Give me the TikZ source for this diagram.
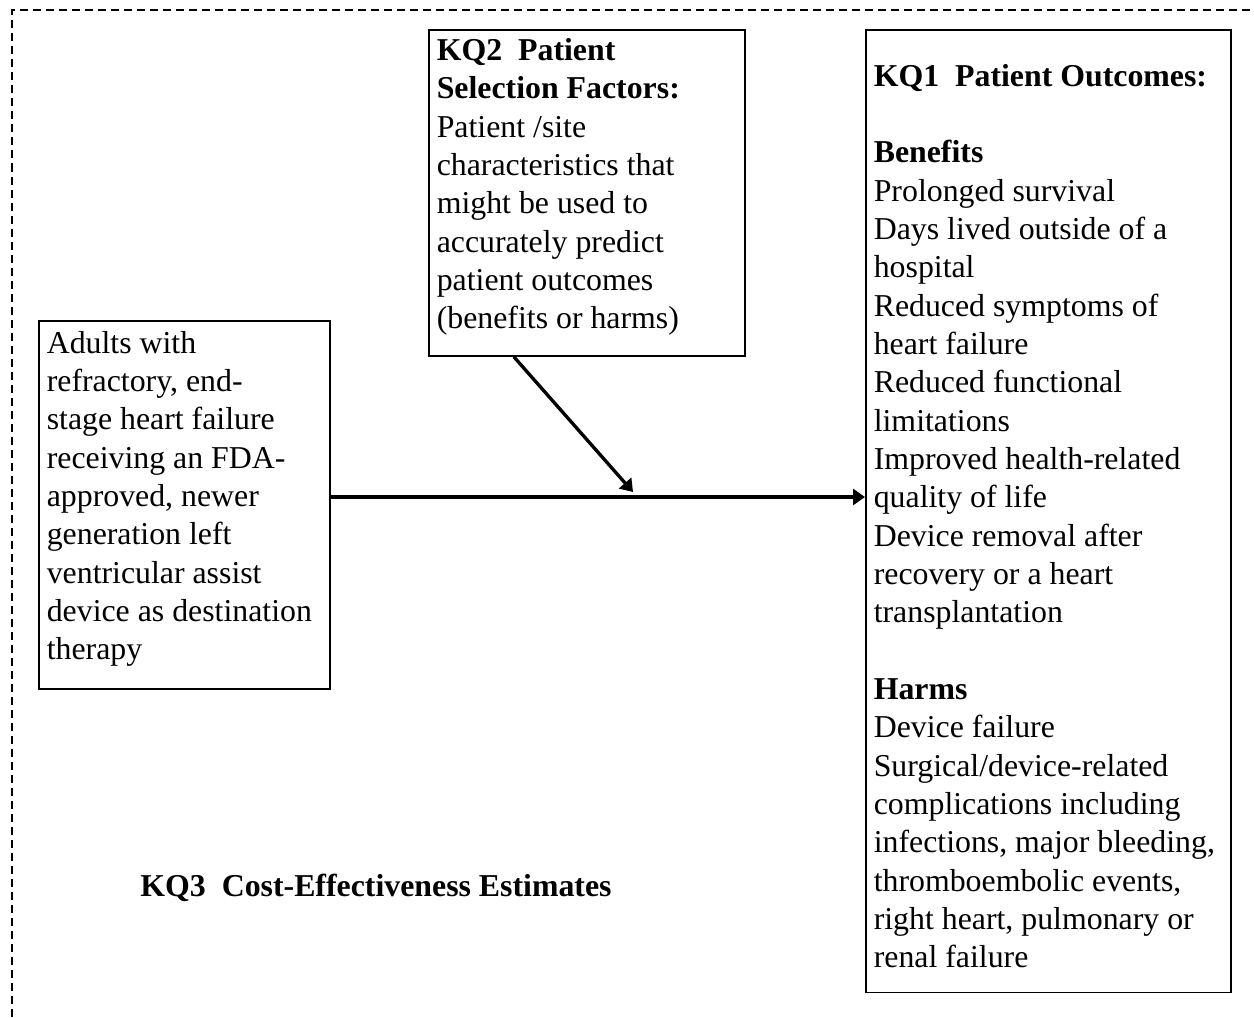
\documentclass[tikz,border=0pt]{standalone}
\usepackage{fontspec}
\setmainfont{Liberation Serif}
\usetikzlibrary{shapes,arrows.meta,positioning}

\begin{document}
\begin{tikzpicture}[x=0.01cm, y=-0.01cm, font=\fontsize{9.05pt}{10.9pt}\selectfont]
\tikzstyle{box} = [rectangle, draw, line width=0.45pt, align=flush left, inner xsep=0.08cm, inner ysep=0pt, anchor=north west]
\tikzstyle{arrow} = [line width=0.95pt, -{Triangle[length=0.12cm,width=0.16cm]}]
\tikzstyle{frame} = [line width=0.3pt, dash pattern=on 0.08cm off 0.05cm]

\useasboundingbox (0,0) rectangle (1254,1017);
\draw [frame] (12,1017) -- (12,10) -- (1254,10);

\node [box, text width=2.75cm, minimum height=3.68cm] (population) at (38,320) {Adults with\\refractory, end-\\stage heart failure\\receiving an FDA-\\approved, newer\\generation left\\ventricular assist\\device as destination\\therapy\vspace{0.12cm}};
\node [box, text width=3.00cm, minimum height=3.26cm] (kq2) at (428,29) {\textbf{KQ2~~Patient}\\\textbf{Selection Factors:}\\Patient /site\\characteristics that\\might be used to\\accurately predict\\patient outcomes\\(benefits or harms)\vspace{0.12cm}};
\node [box, text width=3.49cm, minimum height=9.62cm] (kq1) at (865,29) {\textbf{KQ1~~Patient Outcomes:}\\[10.9pt]\textbf{Benefits}\\Prolonged survival\\Days lived outside of a\\hospital\\Reduced symptoms of\\heart failure\\Reduced functional\\limitations\\Improved health-related\\quality of life\\Device removal after\\recovery or a heart\\transplantation\\[10.9pt]\textbf{Harms}\\Device failure\\Surgical/device-related\\complications including\\infections, major bleeding,\\thromboembolic events,\\right heart, pulmonary or\\renal failure\vspace{-0.1cm}};
\node [font=\fontsize{9.05pt}{10.9pt}\selectfont\bfseries] (kq3) at (376,888) {KQ3~~Cost-Effectiveness Estimates};

\coordinate (axis) at (600,497);
\coordinate (tip) at (633,492);
\draw [arrow] (population.east |- axis) -- (axis -| kq1.west);
\draw [arrow] ([xshift=-0.73cm]kq2.south) -- (tip);

\end{tikzpicture}
\end{document}
